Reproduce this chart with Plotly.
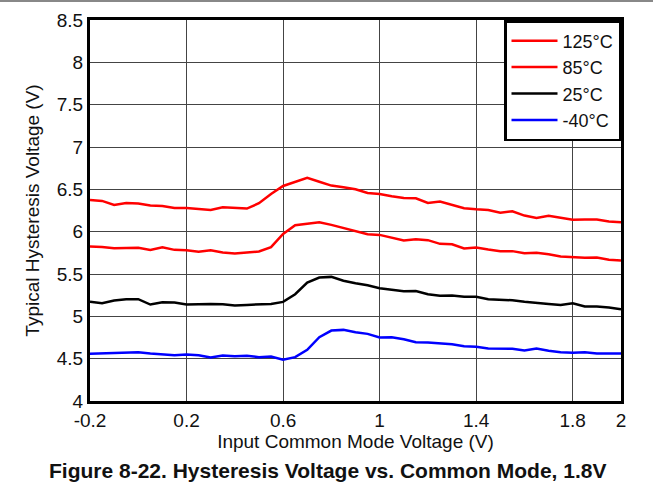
import plotly.graph_objects as go

# input common mode voltage, 0.05 V steps
vcm = [round(-0.2 + 0.05 * i, 2) for i in range(45)]

hyst_125 = [6.375, 6.363, 6.316, 6.339, 6.332, 6.308, 6.304, 6.280, 6.280, 6.269,
            6.257, 6.288, 6.285, 6.273, 6.336, 6.446, 6.540, 6.591, 6.635, 6.590,
            6.544, 6.524, 6.500, 6.457, 6.445, 6.418, 6.398, 6.394, 6.339, 6.355,
            6.312, 6.277, 6.265, 6.257, 6.225, 6.240, 6.190, 6.163, 6.187, 6.167,
            6.140, 6.144, 6.144, 6.120, 6.112]
hyst_85 = [5.824, 5.820, 5.805, 5.809, 5.809, 5.785, 5.817, 5.785, 5.781, 5.762,
           5.781, 5.754, 5.742, 5.754, 5.766, 5.817, 5.973, 6.076, 6.092, 6.110,
           6.080, 6.045, 6.013, 5.970, 5.962, 5.930, 5.895, 5.911, 5.900, 5.856,
           5.852, 5.801, 5.813, 5.789, 5.770, 5.770, 5.746, 5.750, 5.734, 5.707,
           5.695, 5.691, 5.695, 5.668, 5.660]
hyst_25 = [5.171, 5.155, 5.187, 5.202, 5.202, 5.139, 5.167, 5.163, 5.139, 5.147,
           5.147, 5.143, 5.127, 5.135, 5.139, 5.147, 5.171, 5.261, 5.399, 5.458,
           5.466, 5.420, 5.391, 5.367, 5.332, 5.313, 5.297, 5.300, 5.261, 5.242,
           5.245, 5.230, 5.230, 5.202, 5.194, 5.190, 5.171, 5.155, 5.147, 5.135,
           5.155, 5.116, 5.116, 5.104, 5.084]
hyst_m40 = [4.557, 4.561, 4.565, 4.572, 4.576, 4.561, 4.549, 4.541, 4.549, 4.541,
            4.514, 4.537, 4.530, 4.533, 4.518, 4.526, 4.487, 4.518, 4.604, 4.754,
            4.832, 4.840, 4.813, 4.793, 4.750, 4.754, 4.730, 4.695, 4.691, 4.683,
            4.671, 4.648, 4.640, 4.620, 4.616, 4.616, 4.597, 4.620, 4.593, 4.576,
            4.569, 4.576, 4.561, 4.561, 4.561]

series = [
    ("125°C", hyst_125, "#ff0000"),
    ("85°C", hyst_85, "#ff0000"),
    ("25°C", hyst_25, "#000000"),
    ("-40°C", hyst_m40, "#0000ff"),
]

x_ticks = [-0.2, 0.2, 0.6, 1, 1.4, 1.8, 2]
x_labels = ["-0.2", "0.2", "0.6", "1", "1.4", "1.8", "2"]
y_ticks = [4, 4.5, 5, 5.5, 6, 6.5, 7, 7.5, 8, 8.5]
y_labels = ["4", "4.5", "5", "5.5", "6", "6.5", "7", "7.5", "8", "8.5"]

fig = go.Figure()
for name, vals, color in series:
    fig.add_trace(go.Scatter(x=vcm, y=vals, mode="lines", name=name,
                             line=dict(color=color, width=2.5)))

font = dict(family="Liberation Sans, Arial, sans-serif", size=19, color="#111")

fig.update_layout(
    width=653, height=491,
    margin=dict(l=90, r=32, t=20, b=90, autoexpand=False),
    paper_bgcolor="white", plot_bgcolor="white",
    font=font,
    showlegend=True,
    legend=dict(x=1, y=1, xanchor="right", yanchor="top",
                bgcolor="white", bordercolor="black", borderwidth=2.5,
                font=dict(size=18), tracegroupgap=0, itemwidth=46),
    xaxis=dict(range=[-0.2, 2], tickvals=x_ticks, ticktext=x_labels,
               showgrid=True, gridcolor="#444", gridwidth=1, zeroline=False,
               showline=True, linecolor="black", linewidth=3, mirror=True,
               ticks="", title=dict(text="Input Common Mode Voltage (V)", standoff=0,
                                    font=dict(size=19))),
    yaxis=dict(range=[4, 8.5], tickvals=y_ticks, ticktext=y_labels,
               showgrid=True, gridcolor="#444", gridwidth=1, zeroline=False,
               showline=True, linecolor="black", linewidth=3, mirror=True,
               ticks="", title=dict(text="Typical Hysteresis Voltage (V)", standoff=13,
                                    font=dict(size=19))),
)

# caption under the chart
fig.add_annotation(text="<b>Figure 8-22. Hysteresis Voltage vs. Common Mode, 1.8V</b>",
                   xref="paper", yref="paper", x=(327 - 90) / 531, y=(401 - 470) / 381,
                   xanchor="center", yanchor="middle", showarrow=False,
                   font=dict(size=21, color="#111"))

# thin grey rule at the very top of the page
fig.add_shape(type="line", xref="paper", yref="paper",
              x0=-90 / 531, x1=1 + 32 / 531, y0=1 + 19 / 381, y1=1 + 19 / 381,
              line=dict(color="#888", width=2))

# drop the default page margin so the figure sits at the window origin
fig.write_html("out.html", config={"displayModeBar": False},
               post_script="document.body.style.margin='0';")
